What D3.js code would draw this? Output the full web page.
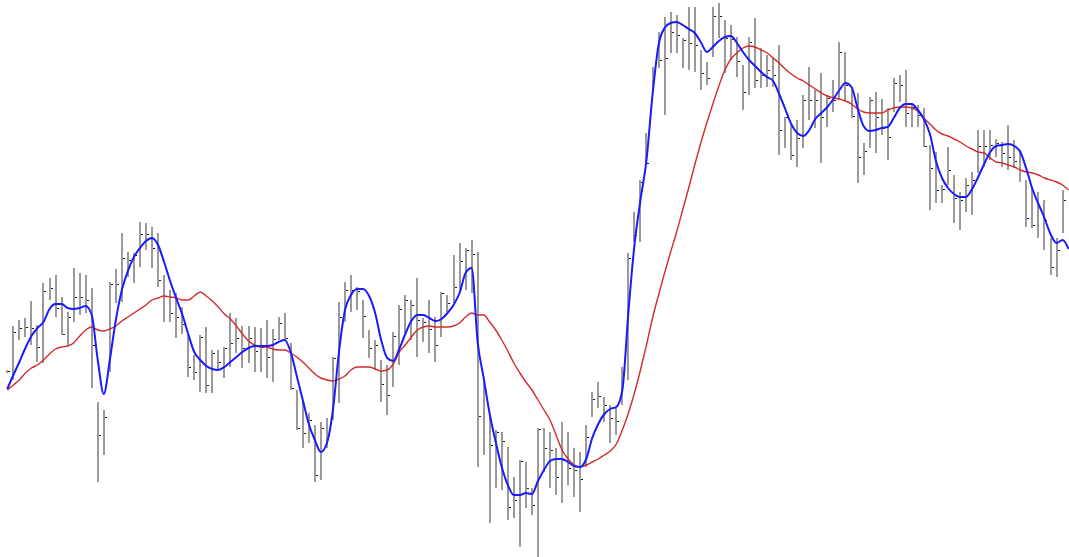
<!DOCTYPE html>
<html><head><meta charset="utf-8">
<script src="https://cdn.jsdelivr.net/npm/d3@7"></script>
<style>html,body{margin:0;padding:0;background:#fff;overflow:hidden}</style>
</head><body><svg id="chart" width="1069" height="557"></svg>
<script>
// OHLC-style bars (high / low / close), one per period
const high = [230,274,280,282,299,275,317,322,325,303,
288,332,327,325,312,198,190,318,331,367,
348,347,378,377,373,367,325,310,307,293,
265,245,265,273,250,250,253,287,282,274,
274,273,272,280,271,283,287,257,210,200,
187,175,178,182,243,298,318,325,313,300,
270,260,240,235,268,295,305,300,322,282,
300,283,308,305,345,357,352,360,348,217,
185,170,168,153,123,140,138,112,172,172,
168,152,178,168,152,148,175,208,218,203,
195,192,233,347,388,420,467,533,568,583,
588,585,562,593,593,550,538,593,597,580,
575,563,535,563,582,552,545,543,555,483,
475,480,505,533,510,527,505,520,558,548,
512,507,457,503,508,501,492,522,525,530,
497,495,492,455,448,415,453,425,408,422,
428,470,470,470,461,458,475,460,450,420,
412,408,400,362,362,410];
const low = [227,220,260,263,255,238,237,300,283,265,
255,278,285,287,212,118,145,228,297,298,
323,317,333,350,332,313,278,278,262,266,
223,220,208,207,207,230,222,233,247,232,
237,228,228,222,218,260,260,210,170,152,
157,118,120,152,180,197,278,288,290,262,
242,230,198,185,213,235,267,260,243,258,
247,238,263,288,297,310,310,307,133,145,
77,112,110,80,82,53,92,85,43,128,
112,105,97,115,103,88,133,183,192,178,
157,165,195,220,358,358,437,510,532,485,
547,547,532,530,528,510,515,543,562,527,
540,523,490,505,512,512,513,513,445,452,
440,433,452,480,472,437,473,488,500,500,
482,417,425,452,447,465,440,488,498,473,
473,473,453,390,397,397,415,377,370,388,
385,427,433,440,443,433,430,432,418,373,
372,362,350,325,323,367];
const close = [229,268,272,273,272,253,309,312,292,266,
283,303,303,300,255,165,183,316,316,342,
340,345,366,366,352,320,304,287,283,276,
233,228,263,215,247,238,252,257,262,252,
262,249,253,243,261,277,262,212,172,167,
180,125,172,165,242,283,310,310,309,284,
252,255,216,205,264,291,300,295,280,278,
271,255,307,297,313,339,350,346,184,210,
155,168,159,93,100,139,112,95,171,152,
150,123,140,132,130,121,163,201,204,195,
182,179,228,342,365,418,437,528,540,542,
568,565,560,557,555,527,522,584,584,562,
561,539,508,558,520,525,530,525,470,483,
445,462,500,500,500,483,502,500,548,515,
484,443,449,500,483,472,463,517,515,487,
493,485,454,432,410,411,430,402,400,415,
420,454,454,455,457,447,443,439,430,382,
375,393,380,333,350,400];
// fast smoothing line (blue)
const fastLine = [211,225,238,252,264,272,278,291,296,296,
292,291,292,294,285,240,206,240,280,310,
329,343,352,359,362,355,338,319,302,286,
266,248,240,234,231,230,233,238,243,248,
252,254,254,254,255,258,260,248,224,200,
176,160,148,157,190,248,290,305,311,311,
304,287,260,242,239,251,266,279,285,285,
282,279,281,287,295,307,327,332,258,222,
186,158,133,115,105,105,107,106,119,130,
139,141,141,138,134,133,141,162,176,186,
191,193,210,288,355,400,440,505,555,572,
577,578,575,571,567,558,548,553,559,563,
564,557,548,540,534,528,523,519,506,491,
476,467,464,470,481,487,493,501,510,517,
513,492,474,469,470,472,473,482,492,496,
496,490,481,466,439,422,412,406,403,403,
411,423,436,448,454,455,456,454,448,431,
411,396,382,366,357,360,351];
// slow moving average (red)
const slowLine = [210,215,220,227,232,235,240,246,251,253,
254,257,264,270,273,270,269,271,274,279,
283,287,291,295,300,302,304,303,302,300,
300,304,308,304,299,293,286,281,274,266,
259,255,253,253,251,250,250,247,243,238,
232,226,222,220,219,221,224,230,233,233,
233,231,229,230,236,248,255,263,270,273,
274,273,273,273,274,277,283,287,285,285,
278,270,260,249,237,227,218,210,200,190,
180,165,150,141,135,133,135,138,141,145,
149,156,170,187,207,230,255,282,305,327,
348,368,390,412,435,457,477,496,514,530,
541,547,552,554,553,550,547,542,537,531,
526,522,519,515,511,507,504,502,501,499,
496,491,488,487,487,487,490,492,493,493,
492,489,482,476,470,466,464,461,458,454,
451,448,447,442,438,437,435,433,430,428,
427,425,422,420,418,415,410];

const W = 1069, H = 557;
const svg = d3.select('#chart');
svg.append('rect').attr('width', W).attr('height', H).attr('fill', '#fff');

const x = d3.scaleLinear().domain([0, 176]).range([7.3, 1068.6]);
const y = d3.scaleLinear().domain([43, 600]).range([H, 0]);

const bars = high.map((h, i) => ({ i, h, l: low[i], c: close[i] }));

svg.append('g').selectAll('rect').data(bars).join('rect')
  .attr('x', d => Math.round(x(d.i)) - 1)
  .attr('width', 2)
  .attr('y', d => Math.round(y(d.h)))
  .attr('height', d => Math.max(1, Math.round(y(d.l)) - Math.round(y(d.h))))
  .attr('fill', '#9a9a9a')
  .attr('shape-rendering', 'crispEdges');

svg.append('g').selectAll('rect').data(bars).join('rect')
  .attr('x', d => Math.round(x(d.i)) + 1)
  .attr('width', 2)
  .attr('y', d => Math.round(y(d.c)))
  .attr('height', 1)
  .attr('fill', '#1a1a1a')
  .attr('shape-rendering', 'crispEdges');

const line = d3.line().x((d, i) => x(i)).y(d => y(d)).curve(d3.curveMonotoneX);

svg.append('path').datum(slowLine).attr('d', line)
  .attr('fill', 'none').attr('stroke', '#d42a2a').attr('stroke-width', 1.4);
svg.append('path').datum(fastLine).attr('d', line)
  .attr('fill', 'none').attr('stroke', '#1a1aff').attr('stroke-width', 2);
</script>
</body></html>
